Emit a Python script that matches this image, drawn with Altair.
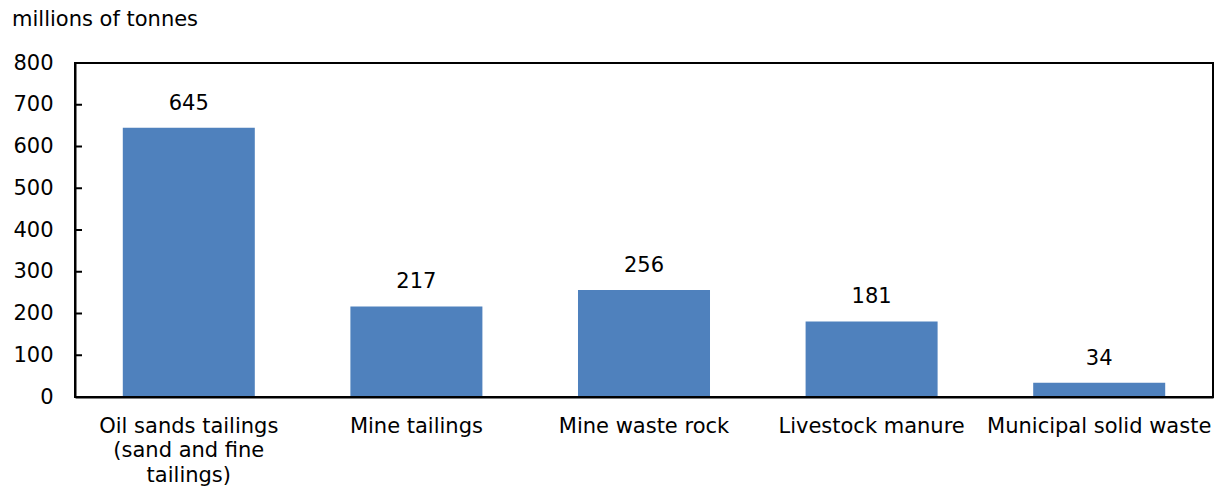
import altair as alt
import pandas as pd

# Waste generated by source, millions of tonnes
categories = [
    "Oil sands tailings (sand and fine tailings)",
    "Mine tailings",
    "Mine waste rock",
    "Livestock manure",
    "Municipal solid waste",
]
values = [645, 217, 256, 181, 34]
y_ticks = [0, 100, 200, 300, 400, 500, 600, 700, 800]

FONT = "DejaVu Sans"
FONT_SIZE = 21
BAR_COLOR = "#4f81bd"
W, H = 1138, 334

df = pd.DataFrame({"category": categories, "value": values})
ticks_df = pd.DataFrame({"tick": y_ticks})
frame_df = pd.DataFrame({"frame": [0]})

label_expr = (
    "datum.label == 'Oil sands tailings (sand and fine tailings)' "
    "? ['Oil sands tailings', '(sand and fine', 'tailings)'] : datum.label"
)

x_enc = alt.X(
    "category:N",
    sort=categories,
    title=None,
    scale=alt.Scale(paddingInner=0.42, paddingOuter=0.21),
    axis=alt.Axis(
        labelAngle=0,
        labelExpr=label_expr,
        labelFont=FONT,
        labelFontSize=FONT_SIZE,
        labelColor="black",
        labelPadding=18,
        labelLineHeight=24.5,
        labelBaseline="top",
        labelLimit=0,
        ticks=False,
        domainColor="black",
        domainWidth=2,
    ),
)

y_scale = alt.Scale(domain=[0, 800], nice=False)

bars = alt.Chart(df).mark_bar(color=BAR_COLOR).encode(
    x=x_enc,
    y=alt.Y(
        "value:Q",
        scale=y_scale,
        title=None,
        axis=alt.Axis(
            values=y_ticks,
            ticks=False,
            grid=False,
            labelFont=FONT,
            labelFontSize=FONT_SIZE,
            labelColor="black",
            labelPadding=22,
            domainColor="black",
            domainWidth=2,
        ),
    ),
)

labels = alt.Chart(df).mark_text(
    font=FONT, fontSize=FONT_SIZE, color="black", baseline="bottom", dy=-14
).encode(
    x=alt.X("category:N", sort=categories),
    y=alt.Y("value:Q", scale=y_scale),
    text=alt.Text("value:Q"),
)

# Short tick marks pointing into the plot area
inner_ticks = alt.Chart(ticks_df).mark_rule(color="black", strokeWidth=2).encode(
    x=alt.value(0),
    x2=alt.value(7),
    y=alt.Y("tick:Q", scale=y_scale),
)

# Box around the plot area
frame = alt.Chart(frame_df).mark_rect(
    fill=None, stroke="black", strokeWidth=2
).encode(
    x=alt.value(0), x2=alt.value(W), y=alt.value(0), y2=alt.value(H)
)

chart = (
    alt.layer(bars, labels, inner_ticks, frame)
    .properties(
        width=W,
        height=H,
        autosize=alt.AutoSizeParams(type="none"),
        padding={"left": 75, "top": 63, "right": 4, "bottom": 92},
        title=alt.TitleParams(
            "millions of tonnes",
            anchor="start",
            frame="group",
            font=FONT,
            fontSize=FONT_SIZE,
            fontWeight="normal",
            color="black",
            dx=-63,
            offset=22,
        ),
    )
    .configure_view(strokeWidth=0)
    .configure(background="white")
)

chart.save("out.html", embed_options={"renderer": "svg", "actions": False})
